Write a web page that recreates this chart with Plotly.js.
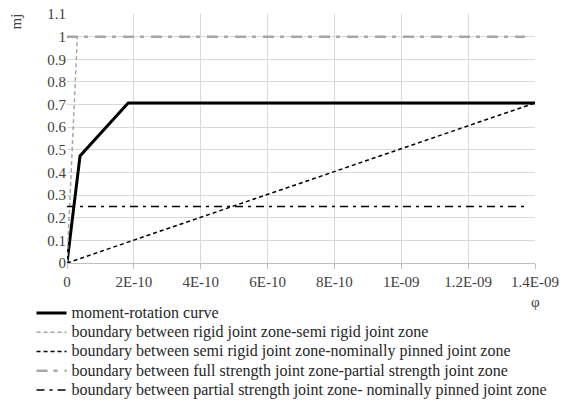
<!DOCTYPE html>
<html><head><meta charset="utf-8">
<script src="https://cdn.plot.ly/plotly-3.0.1.min.js"></script>
<style>html,body{margin:0;padding:0;background:#fff}</style>
</head><body><div id="chart" style="width:562px;height:401px"></div>
<script>
// data
const curveX = [0, 3.9e-11, 1.83e-10, 1.4e-9];
const curveY = [0, 0.473, 0.707, 0.707];
const rigidX = [0, 3.1e-11];
const rigidY = [0, 1];
const pinnedX = [0, 1.4e-9];
const pinnedY = [0, 0.707];
const fullX = [0, 1.37e-9];
const fullY = [1, 1];
const partialX = [0, 1.37e-9];
const partialY = [0.25, 0.25];
const names = [
  "moment-rotation curve",
  "boundary between rigid joint zone-semi rigid joint zone",
  "boundary between semi rigid joint zone-nominally pinned joint zone",
  "boundary between full strength joint zone-partial strength joint zone",
  "boundary between partial strength joint zone- nominally pinned joint zone"
];
const xTickVals = [0, 2e-10, 4e-10, 6e-10, 8e-10, 1e-9, 1.2e-9, 1.4e-9];
const xTickText = ["0", "2E-10", "4E-10", "6E-10", "8E-10", "1E-09", "1.2E-09", "1.4E-09"];
const yTickVals = [0, 0.1, 0.2, 0.3, 0.4, 0.5, 0.6, 0.7, 0.8, 0.9, 1, 1.1];
const yTickText = ["0", "0.1", "0.2", "0.3", "0.4", "0.5", "0.6", "0.7", "0.8", "0.9", "1", "1.1"];

const F = "'Times New Roman', 'Liberation Serif', serif";
const legName = (s) => '<span style="font-size:16px">' + s + '</span>';
const traces = [
  {x: curveX, y: curveY, name: legName(names[0]), mode: "lines", line: {color: "#000", width: 3}},
  {x: rigidX, y: rigidY, name: legName(names[1]), mode: "lines", line: {color: "#a6a6a6", width: 1.5, dash: "4px,3px"}},
  {x: pinnedX, y: pinnedY, name: legName(names[2]), mode: "lines", line: {color: "#000", width: 1.5, dash: "4px,3px"}},
  {x: fullX, y: fullY, name: legName(names[3]), mode: "lines", line: {color: "#a6a6a6", width: 2.5, dash: "11px,6px,4px,7px"}},
  {x: partialX, y: partialY, name: legName(names[4]), mode: "lines", line: {color: "#000", width: 1.5, dash: "8px,5px,3px,5px"}}
];
const layout = {
  width: 562, height: 401,
  margin: {l: 67, r: 27, t: 14, b: 138, autoexpand: false},
  paper_bgcolor: "#fff", plot_bgcolor: "#fff",
  font: {family: F, size: 15, color: "#262626"},
  showlegend: true,
  xaxis: {range: [0, 1.4e-9], tickvals: xTickVals, ticktext: xTickText, showgrid: true, gridcolor: "#d9d9d9",
          zeroline: false, showline: true, linecolor: "#bfbfbf", ticks: "outside", ticklen: 5, tickcolor: "#bfbfbf",
          tickfont: {family: F, size: 15, color: "#404040"}, fixedrange: true},
  yaxis: {range: [0, 1.1], tickvals: yTickVals, ticktext: yTickText, showgrid: true, gridcolor: "#d9d9d9",
          zeroline: false, showline: false, ticks: "", ticklen: 6,
          tickfont: {family: F, size: 15, color: "#404040"}, fixedrange: true},
  legend: {x: -0.0758, y: -0.142, xanchor: "left", yanchor: "top", orientation: "v",
           font: {family: F, size: 12.5, color: "#262626"}, tracegroupgap: 0, itemwidth: 30, bgcolor: "rgba(0,0,0,0)"},
  annotations: [
    {text: "mj", xref: "paper", yref: "paper", x: -0.107, y: 0.97, xanchor: "center", yanchor: "middle", textangle: -90,
     showarrow: false, font: {family: F, size: 15, color: "#404040"}},
    {text: "φ", xref: "paper", yref: "paper", x: 1.0, y: -0.157, xanchor: "center", yanchor: "middle",
     showarrow: false, font: {family: F, size: 15, color: "#404040"}}
  ]
};
Plotly.newPlot("chart", traces, layout, {displayModeBar: false, staticPlot: true});
</script></body></html>
